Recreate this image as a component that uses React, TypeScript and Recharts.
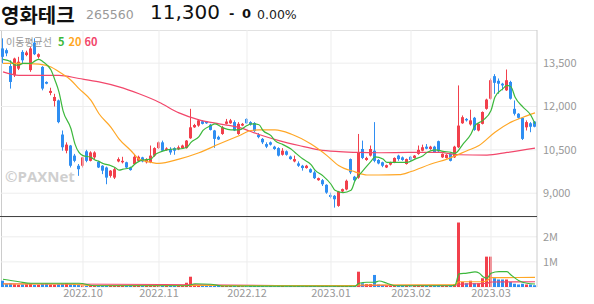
import { ComposedChart, Bar, Line, XAxis, YAxis, CartesianGrid, ReferenceLine } from 'recharts';

const UP = '#f2404c';
const DOWN = '#2f8ef2';
const C5 = '#3cb83c';
const C20 = '#ffa726';
const C60 = '#f2476b';
const FONT = '"Noto Sans CJK KR", "Noto Sans", sans-serif';
const HEAD_FONT = '"DejaVu Sans", "Noto Sans CJK KR", sans-serif';

// trading days per month
const months: [string, number[]][] = [
  ['2022.09', [1, 2, 5, 6, 7, 8, 13, 14, 15, 16, 19, 20, 21, 22, 23, 26, 27, 28, 29, 30]],
  ['2022.10', [4, 5, 6, 7, 11, 12, 13, 14, 17, 18, 19, 20, 21, 24, 25, 26, 27, 28, 31]],
  ['2022.11', [1, 2, 3, 4, 7, 8, 9, 10, 11, 14, 15, 16, 17, 18, 21, 22, 23, 24, 25, 28, 29, 30]],
  ['2022.12', [1, 2, 5, 6, 7, 8, 9, 12, 13, 14, 15, 16, 19, 20, 21, 22, 23, 26, 27, 28, 29]],
  ['2023.01', [2, 3, 4, 5, 6, 9, 10, 11, 12, 13, 16, 17, 18, 19, 20, 25, 26, 27, 30, 31]],
  ['2023.02', [1, 2, 3, 6, 7, 8, 9, 10, 13, 14, 15, 16, 17, 20, 21, 22, 23, 24, 27, 28]],
  ['2023.03', [2, 3, 6, 7, 8, 9, 10, 13, 14, 15, 16, 17]],
];
const dates = months.flatMap(([m, ds]) => ds.map((d) => `${m}.${String(d).padStart(2, '0')}`));
const monthStarts = months.slice(1).map(([m, ds]) => `${m}.${String(ds[0]).padStart(2, '0')}`);

const opens = [14010, 13950, 13400, 13080, 13310, 13890, 13780, 13260, 14210, 13720,
  13370, 12850, 12470, 12190, 12210, 11030, 10470, 10650, 10300, 9950,
  9950, 10450, 10120, 10240, 10090, 9950, 9890, 9600, 9540, 10100,
  10070, 10070, 9890, 10010, 10120, 10240, 10070, 10070, 10300, 10560,
  10760, 10490, 10530, 10560, 10520, 10560, 10560, 10900, 11280, 11340,
  11490, 11480, 11370, 11170, 10950, 11050, 11400, 11420, 11460, 11050,
  11340, 11570, 11460, 11430, 11020, 10880, 10700, 10760, 10610, 10560,
  10330, 10450, 10270, 10100, 10030, 9950, 9870, 9830, 9720, 9450,
  9450, 9290, 8940, 8910, 8560, 9060, 9130, 10180, 9570, 9540,
  10530, 10150, 10300, 10470, 10150, 10070, 9890, 9990, 10070, 10300,
  10240, 10010, 10260, 10220, 10360, 10470, 10610, 10530, 10610, 10800,
  10240, 10220, 10360, 10240, 10590, 11420, 11570, 11380, 11610, 11170,
  11400, 11920, 12270, 13050, 12890, 12790, 12560, 12850, 11920, 11750,
  11610, 11280, 11420, 11480];
const highs = [14360, 14010, 13600, 13690, 13720, 13950, 13930, 14070, 14360, 13840,
  13400, 12870, 12650, 12440, 12240, 11170, 10760, 10670, 10360, 10010,
  10260, 10500, 10450, 10450, 10120, 9970, 9920, 9800, 9890, 10240,
  10260, 10090, 9920, 10360, 10300, 10260, 10210, 10650, 10590, 10790,
  10820, 10590, 10590, 10590, 10650, 10680, 10840, 11920, 11400, 11560,
  11520, 11500, 11400, 11190, 10990, 11330, 11570, 11570, 11520, 11460,
  11430, 11600, 11490, 11460, 11080, 10910, 10760, 10790, 10640, 10590,
  10560, 10480, 10300, 10300, 10100, 9980, 9980, 9860, 9780, 9540,
  9490, 9310, 9020, 8940, 9080, 9160, 9470, 10200, 9600, 11050,
  10820, 10260, 10650, 11460, 10180, 10090, 9990, 10090, 10240, 10330,
  10270, 10200, 10290, 10320, 10650, 10680, 10700, 10640, 10640, 10820,
  10380, 10350, 10380, 10640, 12730, 11690, 11600, 11890, 11640, 11420,
  11830, 12270, 12970, 13120, 12970, 12820, 13280, 12890, 12210, 11770,
  11630, 11520, 11460, 11500];
const lows = [13490, 13740, 12620, 13020, 13260, 13490, 13740, 13200, 13780, 13660,
  12560, 12770, 12390, 12000, 11420, 10470, 10380, 9890, 10070, 9600,
  9890, 10070, 10100, 10180, 9870, 9660, 9310, 9540, 9490, 10070,
  10030, 9870, 9780, 9990, 10100, 10070, 10030, 10040, 10260, 10530,
  10450, 10470, 10330, 10330, 10490, 10530, 10540, 10880, 11260, 11300,
  11380, 11400, 11170, 10570, 10840, 11020, 11380, 11400, 11150, 11020,
  11320, 11400, 11340, 11120, 10900, 10700, 10560, 10650, 10500, 10270,
  10300, 10300, 10160, 10070, 9910, 9780, 9850, 9700, 9490, 9430,
  9250, 8980, 8820, 8500, 8530, 9040, 9100, 9660, 9420, 9500,
  10180, 10120, 10270, 10070, 10000, 9900, 9870, 9960, 10040, 10120,
  10120, 9990, 10100, 10200, 10330, 10450, 10520, 10500, 10390, 10410,
  10220, 10200, 10100, 10220, 10560, 11400, 11480, 11340, 11160, 11140,
  11380, 11890, 12240, 12440, 12440, 12560, 12540, 12240, 11690, 11580,
  10840, 11170, 11110, 11280];
const closes = [13720, 13840, 12850, 13660, 13550, 13600, 13870, 14010, 13810, 13810,
  12620, 12790, 12540, 12330, 11460, 10590, 10680, 9950, 10120, 9830,
  10240, 10120, 10410, 10410, 9890, 9780, 9540, 9780, 9830, 10180,
  10120, 9890, 9800, 10260, 10260, 10100, 10180, 10300, 10560, 10760,
  10470, 10550, 10410, 10470, 10590, 10650, 10820, 11280, 11360, 11520,
  11400, 11420, 11190, 10880, 10860, 11280, 11480, 11520, 11170, 11400,
  11400, 11420, 11370, 11150, 10940, 10760, 10610, 10680, 10530, 10300,
  10470, 10330, 10180, 10180, 9950, 9870, 9950, 9720, 9520, 9520,
  9310, 9020, 8870, 8790, 9060, 9140, 9430, 9720, 9450, 10410,
  10220, 10220, 10530, 10120, 10030, 9950, 9970, 10070, 10220, 10180,
  10150, 10180, 10150, 10300, 10500, 10590, 10540, 10610, 10420, 10450,
  10360, 10330, 10120, 10610, 11340, 11630, 11520, 11520, 11190, 11400,
  11810, 12240, 12910, 12820, 12790, 12730, 12910, 12270, 11750, 11610,
  10880, 11460, 11300, 11300];
// volume, thousands of shares
const volumes = [250, 120, 140, 110, 90, 100, 110, 130, 80, 90,
  120, 140, 100, 90, 110, 120, 150, 110, 130, 100,
  60, 50, 70, 50, 40, 60, 50, 70, 60, 50,
  40, 40, 50, 60, 50, 40, 50, 60, 50, 40,
  50, 40, 40, 50, 60, 50, 170, 410, 90, 70,
  50, 40, 50, 60, 40, 50, 40, 40, 50, 40,
  30, 40, 40, 50, 40, 40, 30, 40, 30, 50,
  40, 30, 40, 30, 40, 30, 30, 40, 50, 30,
  40, 50, 40, 60, 70, 40, 60, 80, 50, 610,
  150, 120, 120, 480, 100, 80, 60, 50, 40, 50,
  40, 40, 50, 40, 60, 50, 40, 40, 50, 60,
  50, 40, 50, 110, 2570, 200, 150, 250, 150, 150,
  350, 1210, 1210, 350, 300, 300, 300, 200, 130, 100,
  130, 100, 100, 70];

// moving averages: [candle index, value]
const ma5Pts: [number, number][] = [[0, 13630], [2, 13550], [3, 13430], [4, 13430], [5, 13490], [7, 13490], [8, 13580], [9, 13630], [10, 13550], [12, 13260], [13, 12910], [14, 12500], [15, 11860], [17, 11230], [18, 10700], [19, 10410], [20, 10300], [22, 10240], [23, 10150], [24, 10100], [25, 10030], [27, 9950], [28, 9890], [29, 9800], [30, 9830], [32, 9890], [33, 10010], [34, 10100], [35, 10150], [37, 10180], [38, 10330], [39, 10410], [41, 10500], [43, 10530], [44, 10530], [46, 10590], [47, 10760], [49, 10960], [50, 11170], [52, 11340], [53, 11400], [55, 11260], [57, 11190], [59, 11190], [61, 11340], [62, 11400], [64, 11370], [65, 11170], [67, 10990], [68, 10820], [70, 10680], [72, 10530], [73, 10410], [75, 10180], [77, 9990], [78, 9800], [80, 9600], [82, 9310], [83, 9100], [85, 9020], [87, 9100], [88, 9430], [90, 9780], [92, 10100], [93, 10260], [95, 10180], [96, 10070], [98, 10070], [101, 10070], [103, 10180], [105, 10300], [106, 10410], [108, 10500], [110, 10450], [112, 10410], [113, 10380], [115, 10700], [117, 11050], [118, 11340], [120, 11520], [122, 11860], [123, 12330], [125, 12620], [126, 12730], [127, 12680], [128, 12330], [130, 11980], [132, 11690], [133, 11400]];
const ma20Pts: [number, number][] = [[0, 13490], [4, 13490], [9, 13470], [12, 13370], [14, 13200], [17, 12910], [19, 12620], [22, 12210], [24, 11750], [27, 11280], [29, 10880], [32, 10470], [34, 10180], [37, 10070], [39, 10030], [44, 10180], [49, 10400], [54, 10700], [59, 10990], [62, 11170], [64, 11190], [68, 11190], [72, 11050], [77, 10700], [81, 10300], [84, 9950], [88, 9740], [91, 9630], [94, 9630], [99, 9640], [102, 9750], [107, 10010], [111, 10180], [116, 10470], [119, 10650], [123, 11110], [127, 11460], [130, 11630], [133, 11780]];
const ma60Pts: [number, number][] = [[0, 13200], [4, 13080], [14, 13080], [19, 12970], [24, 12850], [29, 12680], [34, 12440], [39, 12150], [44, 11780], [49, 11540], [54, 11400], [59, 11280], [64, 11030], [69, 10820], [74, 10650], [79, 10500], [84, 10440], [89, 10410], [94, 10400], [102, 10410], [109, 10410], [114, 10330], [121, 10320], [126, 10410], [133, 10560]];
const vma5Pts: [number, number][] = [[0, 310], [4, 210], [7, 150], [19, 150], [23, 50], [46, 50], [48, 130], [52, 110], [55, 40], [88, 30], [89, 150], [91, 190], [93, 190], [94, 240], [96, 150], [98, 50], [112, 50], [113, 70], [114, 520], [116, 550], [118, 600], [119, 560], [120, 410], [121, 350], [122, 550], [124, 610], [126, 610], [127, 480], [129, 250], [131, 150], [133, 120]];
const vma20Pts: [number, number][] = [[0, 120], [16, 120], [22, 60], [88, 60], [89, 80], [110, 90], [113, 90], [114, 210], [120, 210], [121, 260], [122, 370], [133, 380]];
const vma60Pts: [number, number][] = [[0, 130], [40, 100], [80, 40], [89, 50], [95, 70], [113, 70], [114, 110], [121, 150], [122, 200], [133, 210]];

const priceTicks = [9000, 10500, 12000, 13500];
const volTicks = [1000, 2000];

const lookup = (pts: [number, number][]) => new Map(pts);
const m5 = lookup(ma5Pts), m20 = lookup(ma20Pts), m60 = lookup(ma60Pts);
const v5 = lookup(vma5Pts), v20 = lookup(vma20Pts), v60 = lookup(vma60Pts);

const rows = dates.map((date, i) => ({
  date,
  o: opens[i], h: highs[i], l: lows[i], c: closes[i],
  range: [lows[i], highs[i]],
  vol: volumes[i],
  ma5: m5.get(i) ?? null, ma20: m20.get(i) ?? null, ma60: m60.get(i) ?? null,
  vma5: v5.get(i) ?? null, vma20: v20.get(i) ?? null, vma60: v60.get(i) ?? null,
}));

function Candle(props: any) {
  const { x, y, width, height, payload } = props;
  const { o, h, l, c } = payload;
  const color = c >= o ? UP : DOWN;
  const k = height / (h - l || 1);
  const yv = (v: number) => y + (h - v) * k;
  const top = yv(Math.max(o, c));
  const bot = yv(Math.min(o, c));
  const bx = Math.round(x);
  return (
    <g>
      <line x1={bx + 1.5} x2={bx + 1.5} y1={y} y2={y + height} stroke={color} strokeWidth={1} />
      <rect x={bx} y={top} width={Math.min(3, width)} height={Math.max(1, bot - top)} fill={color} />
    </g>
  );
}

function VolBar(props: any) {
  const { x, y, width, height, payload } = props;
  const color = payload.c >= payload.o ? UP : DOWN;
  return <rect x={Math.round(x)} y={y} width={Math.min(3, width)} height={Math.max(0, height)} fill={color} />;
}

const axisTick = { fill: '#999', fontSize: 11, fontFamily: FONT };

function maLines(k5: string, k20: string, k60: string) {
  return [
    <Line key={k60} dataKey={k60} type="monotone" stroke={C60} strokeWidth={1.2} dot={false} activeDot={false} connectNulls isAnimationActive={false} />,
    <Line key={k20} dataKey={k20} type="monotone" stroke={C20} strokeWidth={1.2} dot={false} activeDot={false} connectNulls isAnimationActive={false} />,
    <Line key={k5} dataKey={k5} type="monotone" stroke={C5} strokeWidth={1.2} dot={false} activeDot={false} connectNulls isAnimationActive={false} />,
  ];
}

const head = { position: 'absolute' as const, fontFamily: HEAD_FONT, whiteSpace: 'nowrap' as const, lineHeight: 'normal' };

export default function App() {
  return (
    <div style={{ position: 'absolute', left: 0, top: 0, width: 594, height: 304, background: '#fff', fontFamily: FONT }}>
      <div style={{ ...head, left: 1, top: 0, fontSize: 20, fontWeight: 700, color: '#111' }}>영화테크</div>
      <div style={{ ...head, left: 86, top: 7, fontSize: 12.5, color: '#999' }}>265560</div>
      <div style={{ ...head, left: 150, top: 0, fontSize: 20, color: '#111' }}>11,300</div>
      <div style={{ ...head, left: 229, top: 6, fontSize: 13, fontWeight: 700, color: '#111' }}>-</div>
      <div style={{ ...head, left: 242, top: 6, fontSize: 13, fontWeight: 700, color: '#111' }}>0</div>
      <div style={{ ...head, left: 257, top: 7, fontSize: 12.5, color: '#222' }}>0.00%</div>

      <div style={{ position: 'absolute', left: 0, top: 30, width: 537, height: 1, background: '#d6d6d6' }} />
      <div style={{ position: 'absolute', left: 1, top: 30, width: 1, height: 257, background: '#ccc' }} />

      <div style={{ position: 'absolute', left: 0, top: 30 }}>
        <ComposedChart width={594} height={187} data={rows} margin={{ top: 0, right: 0, bottom: 0, left: 1 }}>
          <CartesianGrid vertical={false} stroke="#ededed" />
          <XAxis dataKey="date" hide />
          <YAxis orientation="right" width={57} domain={[8176, 14648]} ticks={priceTicks} allowDataOverflow
            tickLine={false} tickSize={4} tickMargin={2} axisLine={{ stroke: '#ccc' }} tick={axisTick}
            tickFormatter={(v: number) => v.toLocaleString('en-US')} />
          {monthStarts.map((d) => <ReferenceLine key={d} x={d} stroke="#ededed" />)}
          <Bar dataKey="range" barSize={4} shape={<Candle />} isAnimationActive={false} />
          {maLines('ma5', 'ma20', 'ma60')}
        </ComposedChart>
      </div>

      <div style={{ position: 'absolute', left: 6, top: 33, fontSize: 10, color: '#999', whiteSpace: 'nowrap' }}>
        이동평균선
        <span style={{ color: C5, fontWeight: 700, fontSize: 11, marginLeft: 6 }}>5</span>
        <span style={{ color: C20, fontWeight: 700, fontSize: 11, marginLeft: 4 }}>20</span>
        <span style={{ color: C60, fontWeight: 700, fontSize: 11, marginLeft: 3 }}>60</span>
      </div>
      <div style={{ position: 'absolute', left: 5, top: 166, fontSize: 15, fontWeight: 700, color: '#cfcfcf', fontFamily: '"Open Sans", sans-serif' }}>©PAXNet</div>

      <div style={{ position: 'absolute', left: 0, top: 217 }}>
        <ComposedChart width={594} height={87} data={rows} margin={{ top: 0, right: 0, bottom: 0, left: 1 }}>
          <CartesianGrid vertical={false} stroke="#ededed" />
          <XAxis dataKey="date" ticks={monthStarts} interval={0} tickFormatter={(d: string) => d.slice(0, 7)}
            height={17} tickLine={false} axisLine={false} tickSize={0} tickMargin={2} tick={axisTick} />
          <YAxis orientation="right" width={57} domain={[0, 2790]} ticks={volTicks} allowDataOverflow
            tickLine={false} tickSize={4} tickMargin={2} axisLine={{ stroke: '#ccc' }} tick={axisTick}
            tickFormatter={(v: number) => `${v / 1000}M`} />
          {monthStarts.map((d) => <ReferenceLine key={d} x={d} stroke="#ededed" />)}
          <Bar dataKey="vol" barSize={4} shape={<VolBar />} isAnimationActive={false} />
          {maLines('vma5', 'vma20', 'vma60')}
        </ComposedChart>
      </div>
      <div style={{ position: 'absolute', left: 0, top: 216, width: 537, height: 1, background: '#444' }} />
    </div>
  );
}
